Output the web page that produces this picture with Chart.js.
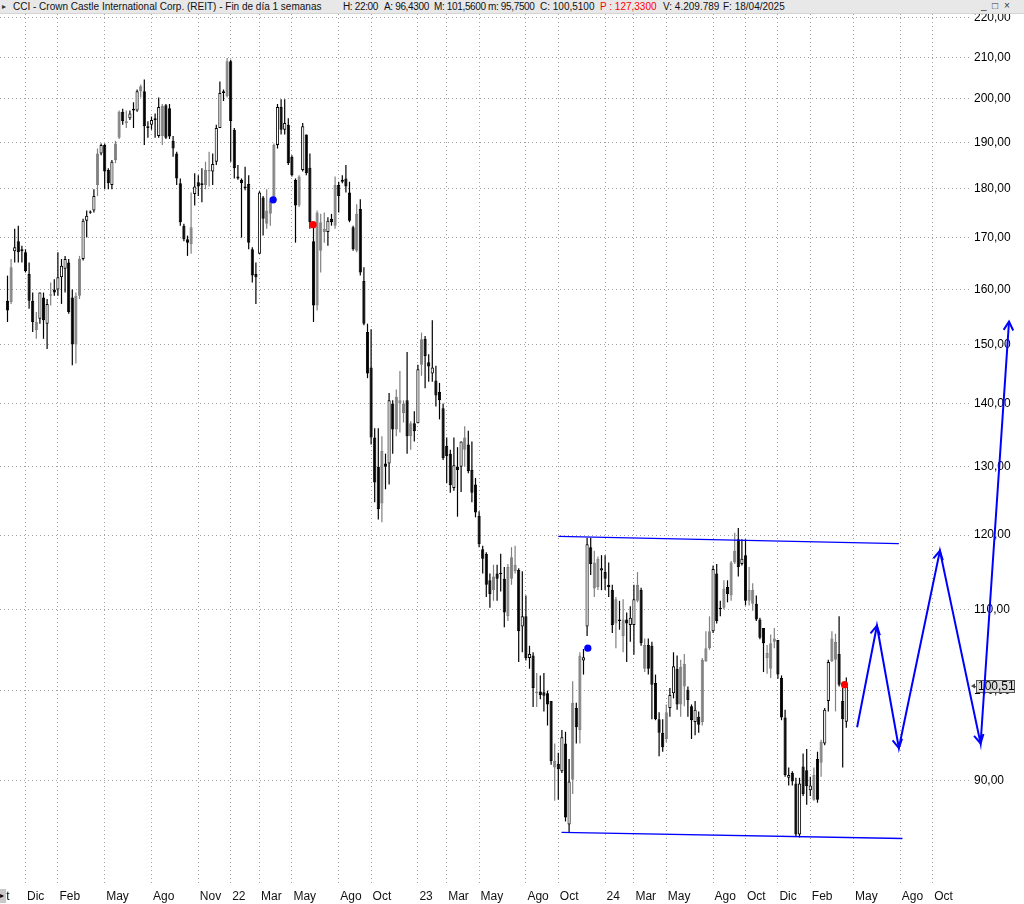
<!DOCTYPE html>
<html>
<head>
<meta charset="utf-8">
<title>CCI - semanal</title>
<script src="https://cdn.jsdelivr.net/npm/chart.js@4.4.1/dist/chart.umd.min.js"></script>
<style>
  html, body { margin: 0; padding: 0; background: #fff; }
  #wrap { position: relative; width: 1024px; height: 904px; overflow: hidden; }
  #chart { position: absolute; left: 0; top: 0; }
  #hdr {
    position: absolute; left: 0; top: 0; width: 1024px; height: 13px;
    background: #e8e8e8; border-bottom: 1px solid #d4d4d4;
    font: 10px "Liberation Sans", Arial, sans-serif; color: #111; white-space: nowrap;
  }
  #hdr span { position: absolute; top: 1px; line-height: 11px; }
  #hdr .tight { letter-spacing: -0.35px; }
  #hdr .red { color: #ff0000; }
  #hdr .btn { top: 0; font-size: 10px; color: #333; }
  #corner {
    position: absolute; left: 0; top: 889px; width: 6px; height: 14px;
    background: #c8c8c8; font: 8px Arial, sans-serif; line-height: 14px; color: #000; overflow: hidden;
  }
</style>
</head>
<body>
<div id="wrap">
  <canvas id="chart" width="1024" height="904"></canvas>
  <div id="hdr">
    <span style="left:2px;font-size:8px;color:#333">&#9656;</span>
    <span style="left:13px">CCI - Crown Castle International Corp. (REIT) - Fin de día 1 semanas</span>
    <span class="tight" style="left:343px">H: 22:00</span>
    <span class="tight" style="left:384px">A: 96,4300</span>
    <span class="tight" style="left:434px">M: 101,5600</span>
    <span class="tight" style="left:488px">m: 95,7500</span>
    <span style="left:540px">C: 100,5100</span>
    <span style="left:600px" class="red">P : 127,3300</span>
    <span style="left:663px">V: 4.209.789</span>
    <span style="left:723px">F: 18/04/2025</span>
    <span class="btn" style="left:981px">_</span>
    <span class="btn" style="left:992px">&#9633;</span>
    <span class="btn" style="left:1004px">&#215;</span>
  </div>
  <div id="corner">&#9656;</div>
</div>
<script>
// weekly candles, first one = week of 26/10/2020, last one = week of 14/04/2025
const firstWeek = 1;

const openP = [
  157.9,157.6,167.3,169.3,167.7,167.1,162.9,157.9,154,154.6,
  158.5,153.7,158.8,160,160,162.3,163.9,165.1,158.5,150,
  158.8,165.8,173.4,175,175.5,180.8,187.6,189.5,184,180.8,
  186.2,191.1,197,194.4,195.5,197.7,197.3,201.8,201.8,193.7,
  194,195.1,191.5,191.5,198.5,197.8,190.4,187.6,181.2,172.4,
  169.7,168.7,178.9,181.4,180.8,180.8,183.7,183.7,185.8,193.3,
  201.8,200.6,209,192.9,182.6,181.9,180.5,181,167.7,162.9,
  166.8,178.2,175.5,174.8,177.5,189.5,198.1,192.9,194,186.9,
  181.9,176.5,184,191.8,184.5,169.3,157,173.1,171.1,171.1,
  173.8,172.4,180.8,181.5,182.2,179.2,172.1,167.4,175.8,161.6,
  152.2,146,134.5,130,124.5,130.5,130.5,140,135.8,140,
  140,140.5,134.7,136.8,136.8,146.5,151,146.9,145,143.8,
  141.9,139.2,133.2,132,126.8,130,130,132.6,133.4,129.5,
  127.3,122.7,118,117.4,113.8,112.5,114.7,114.6,114,109.1,
  114,115,115.2,107.8,109.1,103.9,104.2,99.7,99.9,99.8,
  99.7,98.8,91.4,91.8,91,94,85.5,90.1,98,95.5,
  103.6,107.8,118.3,116.2,112.9,115.1,114.9,113.2,112.5,108.2,
  108.7,106.6,108.7,108,108,111.1,112.5,102.6,105.5,105.4,
  100.9,96.7,95.2,94.5,98,99.7,102.6,98.4,100.5,100.1,
  98.2,96.4,97,96.4,103.5,105.1,107.2,114.7,110.2,110.2,
  112.9,111.8,116.2,119.4,116,117.2,111.1,112.5,110.7,108.7,
  107.6,103.9,102.6,105.9,106.1,101.5,96.9,90.3,90.8,89.7,
  84.5,91.5,91.1,89,88,92.3,91.9,94,98.8,103.5,
  105.9,104.4,98.8,96.43
];
const highP = [
  162.6,165.8,171.8,172.4,168.4,167.7,165.1,159.4,155.8,159.4,
  159.4,158.2,161.3,161.9,167.1,165.8,166.4,165.8,160,159.4,
  166.4,173.8,175.5,175.5,179.9,188.7,189.8,189.8,184.4,186.2,
  190.4,197.3,197.7,197.3,197.3,199.2,202.2,203.4,204.6,194.8,
  195.9,196.6,200.3,198.8,198.8,198.8,191.5,188,182.2,172.8,
  170.4,179.2,183.3,182.9,184.4,185.8,188,187.6,194,204.1,
  202.2,209.8,209.4,193.3,185.1,182.2,184.7,182.9,168.1,165.1,
  179.5,178.5,179.9,178.2,189.8,198.8,199.9,199.9,195.5,187.2,
  182.2,182.9,194.4,191.8,187.6,173.1,175.5,174.8,175.1,174.1,
  174.8,182.6,181.5,182.9,185.1,181.5,172.4,176.8,177.8,164.2,
  153.7,152.7,136,136,134.7,132,141.7,140.5,142.3,145.4,
  140.5,148.7,137.1,138.7,146.5,152.1,151.5,148.3,154.3,146.3,
  143.4,140,134.5,132.6,134.5,133,133.9,136.3,135.6,133.9,
  128.3,123.4,118.5,117.6,114.7,115.9,115.9,117.4,115.6,116,
  118.3,118.5,115.4,115,111.8,105.4,104.6,102.1,101.8,102.1,
  100,98.8,94,93,95.5,95.3,92.3,101.1,98.6,104.6,
  105,119.6,119.6,117.8,117,117.2,117.2,116.2,113.2,111.6,
  111.1,111.3,109.6,110.4,113.2,114.9,112.8,106.3,106.3,105.9,
  101.9,97.5,96.7,98.4,100.3,104.6,104.2,103.7,104.4,100.5,
  98.4,98.8,97.6,103.9,107.2,109.1,115.8,116,111.1,113.8,
  113.8,116.4,120.3,121,119.4,119.4,115.6,113.4,111.8,108.9,
  107.6,105.5,106.8,107.6,106.1,101.8,97.8,91.4,91,90.3,
  90.3,92.9,93.4,90.4,91.4,93.1,94.4,98,103.7,107.2,
  106.9,109.1,100.3,101.56
];
const lowP = [
  154,157.3,165.1,165.1,165.1,163.2,156.4,152.2,151,153.7,
  151,149.2,157,158.8,158.8,157.3,159.4,155.5,146.4,146.7,
  158.2,165.5,170,174.8,175.1,178.5,187.2,179.9,179.9,179.9,
  185.5,190.8,194,193.3,195.1,193.3,197,200.3,189.5,191.1,
  192.9,191.1,191.1,189.5,190.8,190.8,186.9,180.8,172.4,169.3,
  166.4,166.8,176.5,178.5,177.2,179.9,180.5,180.8,185.1,193.3,
  199.5,200.3,185.8,182.2,181.9,170,179.7,167.7,161.3,157.3,
  166.8,170.4,171.8,172.4,177.2,188.7,191.8,191.8,185.1,182.6,
  169,176.2,183.7,182.9,171.8,154,156.1,163.2,169,168.4,
  172.4,171.8,175.1,181.2,179.2,173.1,167.4,167.1,162.6,153.4,
  144.2,133.4,124.7,122.2,121.8,126.6,127.3,132,134.7,135.3,
  136.9,132,132.6,133.9,136.8,144.6,142.5,143.6,143.6,139.5,
  137.4,131,127.5,126.1,126.4,122.6,126.2,130,129,124.7,
  122.5,118.3,114.7,111.6,110.2,111.1,111.1,112.3,107.7,108.5,
  113.2,114.7,103.4,104.6,103.6,102.6,98.1,98.1,99,97.6,
  96,91.7,87.9,88,90.8,85.8,84.7,88.6,94,94,
  101.9,106.6,114.5,111.6,112.5,112.5,112.5,111.6,107,105.1,
  107.4,104.6,103.4,105.9,104.3,110.9,105.4,102.2,101.9,96.7,
  96.6,92.6,93.1,94.1,97,99.1,97.8,97,98.2,97,
  94.5,94.9,95.2,96,103.4,104.9,107,108.2,109.1,110,
  110.9,111.1,116,114.3,115.8,110.5,110.5,109.8,108.5,106.2,
  102.2,102,101.5,105.1,101.4,96.6,90.4,89.5,89.5,84.3,
  84.2,88.4,87.5,88.4,87.9,87.7,90.4,93.8,97.6,103.4,
  97.6,100.5,91.4,95.75
];
const closeP = [
  156.1,164.2,168.1,167.1,167.3,163.5,157.9,154,152.5,159.4,
  154.3,157.3,159.1,159.4,162.3,164.5,165.8,155.8,150,158.8,
  165.8,173.4,174.4,175.3,178.5,187.6,189.5,183.7,181.2,185.8,
  189.8,197,194.8,194.8,196.6,197.3,201.8,203,193.7,193.3,
  195.1,195.5,198.1,198.4,191.1,191.4,188.7,182.2,173.1,169.7,
  169,172.1,180.5,180.5,181.2,184,184,185.3,193.3,201.4,
  201.4,209,194.9,184.4,182.2,181.2,180.1,169,162.6,162.3,
  179.2,173.8,172.8,177.5,189.5,198.1,192.9,194.4,185.5,182.9,
  176.5,182.6,193.7,183.3,173.1,157,175.1,167.4,171.8,173.4,
  173.1,180.8,178.5,181.9,180.5,173.4,167.7,174.8,163.2,153.7,
  145,134.5,127.6,123.7,132.4,130,140.5,135.8,141.1,140.5,
  138.4,134.7,136.8,135.5,145.7,150.9,148,146.2,146,141.3,
  140.5,131.3,131.6,127.2,130.2,129.5,133.9,134.5,129.3,126.1,
  123.2,118.7,116.7,113.2,112,114.3,114,114.8,109.6,115.6,
  116.9,115.9,107.2,109.1,103.9,104.4,100.3,99.9,99.5,99.4,
  98.4,92.1,92.1,91.2,94.7,86.2,89.9,98.6,95.8,104.2,
  104,118.7,116,112.7,116.7,115.4,114,112.9,108,111.3,
  108.5,108.7,108.2,108.9,111.3,113.2,105.7,105.5,102.6,100.7,
  96.7,95.2,93.6,97.5,99.5,102.9,98.4,102.8,103.2,98.9,
  96.6,97.8,96.1,103.7,105.1,107.2,115.3,108.5,110,112.7,
  112,116.2,117.8,115.6,116.7,111.1,112.5,110.7,108.7,106.4,
  105.7,104.5,105.7,106.3,101.9,96.9,90.6,90.6,89.9,84.5,
  89.7,88.6,89.4,89.5,90.6,88,94.2,97.8,103.4,106.3,
  103.7,100.7,96.7,100.51
];
// candle colour as drawn: w = hollow, b = black, g = grey
const toneRows = [
  "bgwbbbbbgw","bwgbwwwbbg","gwwwwgwbbw","ggbgwbwgbb","wwwgbbbbbb",
  "bgwbwggwww","bgbbbbbbbb","wbgggwbwbb","bgwbbbgggw","bgbwbbbgbb",
  "bbbbgbwbgg","gbgbwgbbwb","bbbbwbwgbb","bbbbbgbwbg","ggbwbwbgbb",
  "bbgbwbwgbg","wwbggwbbbg","bgbwwgbgbb","bbbgwwbggb","bwbgggwbbg",
  "bggbwbggbb","bgggbbbwbb","wbbwgbgwwg","gbbw"
];

// axis: month starts (week index) and their labels
const tickWeeks = [-4, 6, 15, 28, 41, 54, 63, 71, 80, 93, 102, 115, 123, 132, 145, 154, 167, 175, 184, 197, 206, 215, 224, 236, 249, 258];
const tickLabels = ["Oct","Dic","Feb","May","Ago","Nov","22","Mar","May","Ago","Oct","23","Mar","May","Ago","Oct","24","Mar","May","Ago","Oct","Dic","Feb","May","Ago","Oct"];
const priceTicks = [90, 100, 110, 120, 130, 140, 150, 160, 170, 180, 190, 200, 210, 220];

// drawn objects
const channelTop = [{ x: 154, y: 119.8 }, { x: 248.6, y: 118.8 }];
const channelBottom = [{ x: 154.9, y: 84.7 }, { x: 249.6, y: 84.1 }];
const projection = [
  { x: 237, y: 95.8 }, { x: 242.5, y: 107.9 }, { x: 248.6, y: 93.5 },
  { x: 260, y: 117.8 }, { x: 271.3, y: 94 }, { x: 279.2, y: 154.1 }
];
const blueMarks = [{ x: 74.8, y: 177.7 }, { x: 162.2, y: 105.1 }];
const redMarks = [{ x: 85.9, y: 172.6 }, { x: 233.5, y: 100.7 }];

const FONT = '"Liberation Sans", Arial, sans-serif';
const TONE_FILL = { w: "#ffffff", b: "#000000", g: "#808080" };
const TONE_LINE = { w: "#000000", b: "#000000", g: "#808080" };

const tones = toneRows.join("").split("");
const weeks = openP.map((_, i) => firstWeek + i);
const wickData = weeks.map((w, i) => ({ x: w, y: [lowP[i], highP[i]] }));
const bodyData = weeks.map((w, i) => ({ x: w, y: [openP[i], closeP[i]] }));

function fmt(v) { return v.toFixed(2).replace(".", ","); }

// last close tag on the price axis
const priceTag = {
    id: "priceTag",
    beforeDatasetsDraw(chart) {
        const { ctx, chartArea, scales } = chart;
        const last = closeP[closeP.length - 1];
        const y = Math.round(scales.y.getPixelForValue(last));
        const x = chartArea.right + 6;
        ctx.save();
        ctx.fillStyle = "#dcdcdc";
        ctx.fillRect(x, y - 6, 39, 13);
        ctx.strokeStyle = "#555";
        ctx.lineWidth = 1;
        ctx.strokeRect(x + 0.5, y - 5.5, 38, 12);
        ctx.fillStyle = "#000";
        ctx.font = "12px " + FONT;
        ctx.textBaseline = "middle";
        ctx.fillText(fmt(last), x + 2, y + 1);
        ctx.fillStyle = "#444";
        ctx.beginPath();
        ctx.moveTo(x - 5, y);
        ctx.lineTo(x - 1, y - 2.5);
        ctx.lineTo(x - 1, y + 2.5);
        ctx.fill();
        ctx.restore();
    }
};

// open arrow heads at the end of every projection leg
const arrowHeads = {
    id: "arrowHeads",
    afterDatasetsDraw(chart) {
        const pts = chart.getDatasetMeta(4).data;
        const c = chart.ctx;
        c.save();
        c.strokeStyle = "#0000ff";
        c.lineWidth = 2;
        for (let i = 1; i < pts.length; i++) {
            const a = pts[i - 1], b = pts[i];
            const ang = Math.atan2(b.y - a.y, b.x - a.x);
            const len = 10, spread = 0.5;
            c.beginPath();
            c.moveTo(b.x - len * Math.cos(ang - spread), b.y - len * Math.sin(ang - spread));
            c.lineTo(b.x, b.y);
            c.lineTo(b.x - len * Math.cos(ang + spread), b.y - len * Math.sin(ang + spread));
            c.stroke();
        }
        c.restore();
    }
};

new Chart(document.getElementById("chart"), {
    type: "bar",
    data: {
        datasets: [
            {
                label: "mecha", data: wickData,
                backgroundColor: tones.map(t => TONE_LINE[t]),
                borderWidth: 0, barThickness: 1.2, inflateAmount: 0, grouped: false, order: 6
            },
            {
                label: "cuerpo", data: bodyData,
                backgroundColor: tones.map(t => TONE_FILL[t]),
                borderColor: tones.map(t => TONE_LINE[t]),
                borderWidth: 1, borderSkipped: false, barThickness: 3.2, minBarLength: 1,
                inflateAmount: 0, grouped: false, order: 5
            },
            {
                type: "line", label: "canal sup", data: channelTop,
                borderColor: "#0000ff", borderWidth: 1.3, pointRadius: 0, order: 4
            },
            {
                type: "line", label: "canal inf", data: channelBottom,
                borderColor: "#0000ff", borderWidth: 1.3, pointRadius: 0, order: 3
            },
            {
                type: "line", label: "proyeccion", data: projection,
                borderColor: "#0000ff", borderWidth: 2, pointRadius: 0, clip: false, order: 2
            },
            {
                type: "line", label: "azul", data: blueMarks, showLine: false,
                pointRadius: 3.6, pointBorderWidth: 0, pointBackgroundColor: "#0000ff", order: 1
            },
            {
                type: "line", label: "rojo", data: redMarks, showLine: false,
                pointRadius: 3.6, pointBorderWidth: 0, pointBackgroundColor: "#ff0000", order: 0
            }
        ]
    },
    options: {
        responsive: false,
        animation: false,
        layout: { autoPadding: false, padding: { top: 14, left: 0, right: 0, bottom: 0 } },
        plugins: { legend: { display: false }, tooltip: { enabled: false } },
        scales: {
            x: {
                type: "linear",
                bounds: "data",
                offset: false,
                afterDataLimits(s) { s.min = -1.083; s.max = 268.36; },
                afterBuildTicks(s) { s.ticks = tickWeeks.map(v => ({ value: v })); },
                afterFit(s) { s.height = 18; s.paddingLeft = 0; s.paddingRight = 0; },
                grid: { color: "#a0a0a0", lineWidth: 1, drawTicks: false, offset: false },
                border: { display: false, dash: [1, 3] },
                ticks: {
                    autoSkip: false, maxRotation: 0, minRotation: 0,
                    align: "start", labelOffset: 1.5, padding: 3,
                    color: "#111", font: { family: FONT, size: 12 },
                    callback: (v, i) => tickLabels[i]
                }
            },
            y: {
                type: "logarithmic",
                position: "right",
                bounds: "data",
                min: 79.55,
                max: 220.9,
                afterBuildTicks(s) { s.ticks = priceTicks.map(v => ({ value: v })); },
                afterFit(s) { s.width = 54; s.paddingTop = 0; s.paddingBottom = 0; },
                grid: { color: "#a0a0a0", lineWidth: 1, drawTicks: false },
                border: { display: false, dash: [1, 3] },
                ticks: {
                    padding: 4, color: "#000", font: { family: FONT, size: 12 },
                    callback: v => fmt(v)
                }
            }
        }
    },
    plugins: [priceTag, arrowHeads]
});
</script>
</body>
</html>
